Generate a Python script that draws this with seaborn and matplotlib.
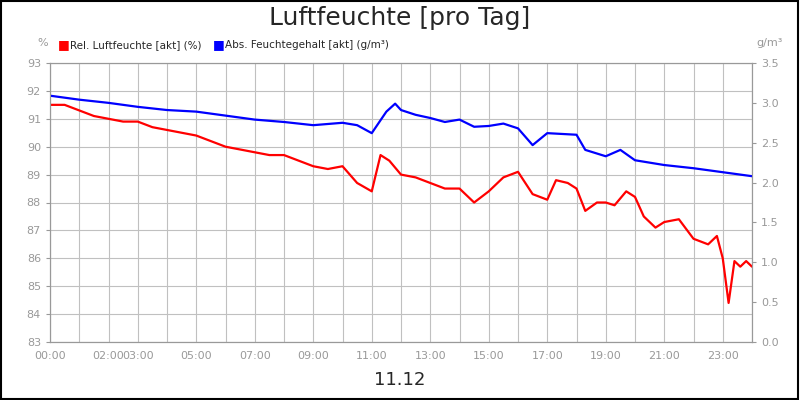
import numpy as np
import pandas as pd
import matplotlib
matplotlib.use("Agg")
import matplotlib.pyplot as plt
import seaborn as sns

# hours of day and readings
rel_hours = [0, 0.5, 1, 1.5, 2, 2.5, 3, 3.5, 4, 4.5, 5, 5.5, 6, 6.5, 7, 7.5, 8, 8.5, 9, 9.5,
             10, 10.5, 11, 11.3, 11.6, 12, 12.5, 13, 13.5, 14, 14.5, 15, 15.5, 16, 16.5, 17,
             17.3, 17.7, 18, 18.3, 18.7, 19, 19.3, 19.7, 20, 20.3, 20.7, 21, 21.5, 22, 22.5,
             22.8, 23, 23.2, 23.4, 23.6, 23.8, 24]
rel_humidity = [91.5, 91.5, 91.3, 91.1, 91.0, 90.9, 90.9, 90.7, 90.6, 90.5, 90.4, 90.2, 90.0,
                89.9, 89.8, 89.7, 89.7, 89.5, 89.3, 89.2, 89.3, 88.7, 88.4, 89.7, 89.5, 89.0,
                88.9, 88.7, 88.5, 88.5, 88.0, 88.4, 88.9, 89.1, 88.3, 88.1, 88.8, 88.7, 88.5,
                87.7, 88.0, 88.0, 87.9, 88.4, 88.2, 87.5, 87.1, 87.3, 87.4, 86.7, 86.5, 86.8,
                86.0, 84.4, 85.9, 85.7, 85.9, 85.7]

abs_hours = [0, 1, 2, 3, 4, 5, 6, 7, 8, 9, 10, 10.5, 11, 11.5, 11.8, 12, 12.5, 13, 13.5, 14,
             14.5, 15, 15.5, 16, 16.5, 17, 17.5, 18, 18.3, 19, 19.5, 20, 21, 22, 23, 24]
abs_humidity = [3.09, 3.04, 3.00, 2.95, 2.91, 2.89, 2.84, 2.79, 2.76, 2.72, 2.75, 2.72, 2.62,
                2.89, 2.99, 2.91, 2.85, 2.81, 2.76, 2.79, 2.70, 2.71, 2.74, 2.68, 2.47, 2.62,
                2.61, 2.60, 2.41, 2.33, 2.41, 2.28, 2.22, 2.18, 2.13, 2.08]

tick_hours = [0, 2, 3, 5, 7, 9, 11, 13, 15, 17, 19, 21, 23]

sns.set_style("white")
plt.rcParams['font.family'] = ['DejaVu Sans']

fig = plt.figure(figsize=(8, 4), dpi=100)
ax = fig.add_axes([50 / 800, 58 / 400, 702 / 800, 279 / 400])
ax2 = ax.twinx()

sns.lineplot(x=rel_hours, y=rel_humidity, ax=ax, color="red", linewidth=1.6)
sns.lineplot(x=abs_hours, y=abs_humidity, ax=ax2, color="blue", linewidth=1.6)

ax.set_xlim(0, 24)
ax.set_ylim(83, 93)
ax2.set_ylim(0, 3.5)
ax.set_yticks(range(83, 94))
ax2.set_yticks(np.arange(0, 3.51, 0.5))
ax2.set_yticklabels([f"{v:.1f}" for v in np.arange(0, 3.51, 0.5)])
ax.set_xticks(tick_hours)
ax.set_xticklabels([f"{h:02d}:00" for h in tick_hours])
ax.set_xticks(range(25), minor=True)
ax.grid(True, which="both", axis="x", color="#c0c0c0", linewidth=0.8)
ax.grid(True, which="major", axis="y", color="#c0c0c0", linewidth=0.8)
ax.set_axisbelow(True)

for a in (ax, ax2):
    a.tick_params(labelsize=8, colors="#999999", length=3)
    for s in a.spines.values():
        s.set_color("#999999")

fig.text(0.5, 0.955, "Luftfeuchte [pro Tag]", ha="center", va="center", fontsize=18)
fig.text(0.5, 0.05, "11.12", ha="center", va="center", fontsize=13)
fig.text(48 / 800, 0.885, "%", ha="right", fontsize=8, color="#999999")
fig.text(770 / 800, 0.885, "g/m³", ha="center", fontsize=8, color="#999999")

fig.text(58 / 800, 0.888, "■", color="red", fontsize=9, va="center")
fig.text(70 / 800, 0.888, "Rel. Luftfeuchte [akt] (%)", fontsize=7.5, va="center")
fig.text(213 / 800, 0.888, "■", color="blue", fontsize=9, va="center")
fig.text(225 / 800, 0.888, "Abs. Feuchtegehalt [akt] (g/m³)", fontsize=7.5, va="center")

fig.patches.append(plt.Rectangle((0.001, 0.002), 0.997, 0.995, transform=fig.transFigure,
                                 fill=False, edgecolor="black", linewidth=1.5))

fig.savefig("out.png", dpi=100)
